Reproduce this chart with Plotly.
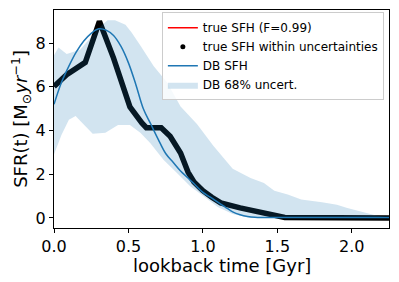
import plotly.graph_objects as go

# true SFH (lookback time [Gyr], SFR)
true_t = [0.0, 0.085, 0.21, 0.305, 0.40, 0.51, 0.59, 0.62, 0.72, 0.78, 0.85, 0.90, 0.94, 1.0, 1.06, 1.12, 1.25, 1.39, 1.55, 2.25]
true_v = [6.02, 6.56, 7.12, 9.0, 7.32, 5.08, 4.35, 4.13, 4.13, 3.74, 2.97, 2.1, 1.65, 1.25, 0.95, 0.69, 0.46, 0.23, 0.02, 0.0]

# DB SFH median
db_t = [0.0, 0.05, 0.1, 0.15, 0.2, 0.25, 0.3, 0.35, 0.4, 0.45, 0.5, 0.55, 0.6, 0.65, 0.7, 0.75, 0.8, 0.85,
        0.9, 0.95, 1.0, 1.05, 1.1, 1.15, 1.2, 1.25, 1.3, 1.35, 1.4, 1.5, 1.75, 2.0, 2.25]
db_v = [5.2, 6.2, 6.95, 7.6, 8.1, 8.45, 8.66, 8.6, 8.35, 7.85, 7.1, 6.1, 5.0, 4.3, 3.6, 2.95, 2.55, 2.15,
        1.83, 1.5, 1.17, 0.95, 0.72, 0.5, 0.28, 0.15, 0.07, 0.03, 0.02, 0.02, 0.02, 0.02, 0.02]

# DB 68% uncertainty band
up_t = [0.0, 0.03, 0.085, 0.175, 0.24, 0.31, 0.36, 0.41, 0.48, 0.52, 0.58, 0.67, 0.76, 0.85, 0.96, 1.07,
        1.2, 1.32, 1.41, 1.48, 1.57, 1.66, 1.8, 1.9, 1.97, 2.08, 2.17, 2.25]
up_v = [7.45, 7.8, 7.5, 7.7, 8.2, 8.75, 9.05, 9.05, 8.85, 8.5, 7.9, 6.95, 6.2, 5.1, 4.3, 3.3,
        2.25, 1.83, 1.6, 1.25, 1.07, 0.84, 0.72, 0.6, 0.46, 0.28, 0.1, 0.02]
lo_t = [0.0, 0.05, 0.1, 0.145, 0.19, 0.26, 0.345, 0.43, 0.51, 0.58, 0.646, 0.735, 0.826, 0.915, 1.0,
        1.1, 1.2, 1.32, 2.25]
lo_v = [2.9, 3.8, 4.5, 4.67, 4.35, 3.85, 3.9, 4.25, 4.25, 3.9, 3.43, 2.67, 2.06, 1.45, 1.0,
        0.5, 0.18, 0.0, 0.0]

x_ticks = [0.0, 0.5, 1.0, 1.5, 2.0]
x_ticklabels = ["0.0", "0.5", "1.0", "1.5", "2.0"]
y_ticks = [0, 2, 4, 6, 8]
y_ticklabels = ["0", "2", "4", "6", "8"]

FONT = "DejaVu Sans"
C0 = "#1f77b4"

fig = go.Figure()
fig.add_trace(go.Scatter(x=true_t, y=true_v, mode="lines", line=dict(color="red", width=1.5),
                         name="true SFH (F=0.99)"))
fig.add_trace(go.Scatter(x=true_t, y=true_v, mode="lines", line=dict(color="black", width=5.5),
                         showlegend=False, hoverinfo="skip"))
fig.add_trace(go.Scatter(x=[None], y=[None], mode="markers", marker=dict(color="black", size=5),
                         name="true SFH within uncertainties"))
fig.add_trace(go.Scatter(x=db_t, y=db_v, mode="lines", line=dict(color=C0, width=1.5, shape="spline"),
                         name="DB SFH"))
fig.add_trace(go.Scatter(x=up_t + lo_t[::-1], y=up_v + lo_v[::-1], mode="lines", fill="toself",
                         fillcolor="rgba(31,119,180,0.2)", line=dict(width=0),
                         name="DB 68% uncert."))

axis_common = dict(showline=True, linecolor="black", linewidth=1, mirror=True, ticks="outside",
                   ticklen=4, tickwidth=1, tickcolor="black", showgrid=False, zeroline=False,
                   automargin=False,
                   tickfont=dict(family=FONT, size=16, color="black"))

# the page body adds an 8px offset, so the figure is 8px smaller and margins shifted
fig.update_layout(
    width=391, height=274,
    margin=dict(l=46, r=10, t=2, b=54),
    paper_bgcolor="white", plot_bgcolor="white",
    font=dict(family=FONT, color="black"),
    xaxis=dict(range=[0, 2.25], tickvals=x_ticks, ticktext=x_ticklabels, **axis_common),
    yaxis=dict(range=[-0.46, 9.52], tickvals=y_ticks, ticktext=y_ticklabels, **axis_common),
    legend=dict(x=0.322, y=0.99, xanchor="left", yanchor="top",
                bgcolor="rgba(255,255,255,0.8)", bordercolor="#cccccc", borderwidth=1,
                font=dict(family=FONT, size=12, color="black"), tracegroupgap=0),
    showlegend=True,
    annotations=[
        dict(text="lookback time [Gyr]", xref="paper", yref="paper", x=0.5, y=-0.172,
             xanchor="center", yanchor="middle", showarrow=False,
             font=dict(family=FONT, size=18, color="black")),
        dict(text="SFR(t) [M<sub>⊙</sub><i>yr</i><sup>−1</sup>]", xref="paper", yref="paper",
             x=-0.099, y=0.5, xanchor="center", yanchor="middle", textangle=-90, showarrow=False,
             font=dict(family=FONT, size=18, color="black")),
    ],
)

fig.write_html("out.html")
